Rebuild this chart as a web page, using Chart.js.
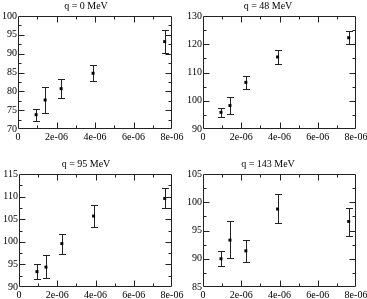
<!DOCTYPE html>
<html>
<head>
<meta charset="utf-8">
<script src="https://cdn.jsdelivr.net/npm/chart.js@4/dist/chart.umd.min.js"></script>
<style>
  body { margin: 0; background: #fff; }
  #wrap { position: relative; width: 367px; height: 299px; overflow: hidden; }
  canvas { position: absolute; }
</style>
</head>
<body>
<div id="wrap">
  <canvas id="c0"></canvas>
  <canvas id="c48"></canvas>
  <canvas id="c95"></canvas>
  <canvas id="c143"></canvas>
</div>
<script>
// x positions shared by every panel
const xVals = [0.94e-6, 1.41e-6, 2.24e-6, 3.90e-6, 7.62e-6];
const xTickMax = 8e-6;
const xTickStep = 2e-6;

// q = 0 MeV
const q0Y  = [73.8, 77.7, 80.7, 84.8, 93.2];
const q0Lo = [72.2, 74.3, 78.1, 82.8, 90.2];
const q0Hi = [75.3, 81.1, 83.3, 87.0, 96.3];
// q = 48 MeV
const q48Y  = [95.9, 98.3, 106.5, 115.5, 122.3];
const q48Lo = [94.3, 95.3, 104.2, 113.0, 120.1];
const q48Hi = [97.5, 101.3, 108.8, 118.0, 124.6];
// q = 95 MeV
const q95Y  = [93.4, 94.4, 99.6, 105.7, 109.6];
const q95Lo = [91.8, 92.0, 97.4, 103.3, 107.4];
const q95Hi = [95.0, 97.0, 101.8, 108.1, 111.8];
// q = 143 MeV
const q143Y  = [90.0, 93.3, 91.4, 98.8, 96.6];
const q143Lo = [88.7, 90.1, 89.4, 96.3, 94.1];
const q143Hi = [91.4, 96.6, 93.4, 101.4, 99.0];

const FONT = "'Liberation Serif', 'Times New Roman', serif";

// error bars, drawn behind the points
const errorBars = {
  id: 'errorBars',
  beforeDatasetsDraw(chart) {
    const ctx = chart.ctx;
    const {x, y} = chart.scales;
    const ds = chart.data.datasets[0];
    ctx.save();
    ctx.strokeStyle = '#222';
    ctx.lineWidth = 1;
    ds.data.forEach((p, i) => {
      const px = Math.round(x.getPixelForValue(p.x)) + 0.5;
      const yl = Math.round(y.getPixelForValue(ds.errLo[i])) + 0.5;
      const yh = Math.round(y.getPixelForValue(ds.errHi[i])) + 0.5;
      ctx.beginPath();
      ctx.moveTo(px, yl); ctx.lineTo(px, yh);
      ctx.moveTo(px - 3.5, yl); ctx.lineTo(px + 3.5, yl);
      ctx.moveTo(px - 3.5, yh); ctx.lineTo(px + 3.5, yh);
      ctx.stroke();
    });
    ctx.restore();
  }
};

// box frame with inward major/minor ticks on all four sides
const frameTicks = {
  id: 'frameTicks',
  afterDraw(chart) {
    const ctx = chart.ctx;
    const a = chart.chartArea;
    const {x, y} = chart.scales;
    const L = Math.round(a.left) + 0.5, R = Math.round(a.right) - 0.5;
    const T = Math.round(a.top) + 0.5, B = Math.round(a.bottom) - 0.5;
    const maj = 6, mnr = 3;
    ctx.save();
    ctx.strokeStyle = '#222';
    ctx.lineWidth = 1;
    ctx.beginPath();
    ctx.rect(L, T, R - L, B - T);
    const withMinor = (sc) => {
      const v = sc.ticks.map(t => t.value);
      const out = [];
      v.forEach((t, i) => {
        out.push([t, maj]);
        if (i < v.length - 1) out.push([(t + v[i + 1]) / 2, mnr]);
      });
      return out;
    };
    withMinor(x).forEach(([v, len]) => {
      const px = Math.round(x.getPixelForValue(v)) + 0.5;
      if (px <= L + 1 || px >= R - 1) return;
      ctx.moveTo(px, B); ctx.lineTo(px, B - len);
      ctx.moveTo(px, T); ctx.lineTo(px, T + len);
    });
    withMinor(y).forEach(([v, len]) => {
      const py = Math.round(y.getPixelForValue(v)) + 0.5;
      if (py <= T + 1 || py >= B - 1) return;
      ctx.moveTo(L, py); ctx.lineTo(L + len, py);
      ctx.moveTo(R, py); ctx.lineTo(R - len, py);
    });
    ctx.stroke();
    ctx.restore();
  }
};

function expLabel(v) {
  if (Math.abs(v) < 1e-12) return '0';
  return Number(v).toExponential(0).replace(/e([+-])(\d)$/, 'e$10$2');
}

function makePanel(id, box, title, ys, lo, hi, yMin, yMax, yStep) {
  const cv = document.getElementById(id);
  cv.width = box.w; cv.height = box.h;
  cv.style.left = box.left + 'px';
  cv.style.top = box.top + 'px';
  new Chart(cv, {
    type: 'scatter',
    data: {
      datasets: [{
        data: xVals.map((x, i) => ({x: x, y: ys[i]})),
        errLo: lo,
        errHi: hi,
        pointStyle: 'rect',
        pointRadius: 2.1,
        backgroundColor: '#000',
        borderWidth: 0
      }]
    },
    options: {
      responsive: false,
      animation: false,
      layout: { padding: { left: 0, right: box.padR, top: 0, bottom: 0 } },
      plugins: {
        legend: { display: false },
        tooltip: { enabled: false },
        title: {
          display: true,
          text: title,
          color: '#000',
          font: { family: FONT, size: 10, weight: 'normal', lineHeight: 1.2 },
          padding: { top: 0, bottom: 4 }
        }
      },
      scales: {
        x: {
          type: 'linear',
          min: 0, max: xTickMax,
          grid: { display: false, drawTicks: false },
          border: { display: false },
          ticks: {
            stepSize: xTickStep,
            autoSkip: false,
            maxRotation: 0,
            padding: 2,
            color: '#000',
            font: { family: FONT, size: 10 },
            callback: v => expLabel(v)
          },
          afterFit: s => { s.height = box.xH; s.paddingLeft = 0; s.paddingRight = 0; }
        },
        y: {
          min: yMin, max: yMax,
          grid: { display: false, drawTicks: false },
          border: { display: false },
          ticks: {
            stepSize: yStep,
            padding: 1,
            color: '#000',
            font: { family: FONT, size: 10 }
          },
          afterFit: s => { s.width = box.yW; s.paddingTop = 0; s.paddingBottom = 0; }
        }
      }
    },
    plugins: [errorBars, frameTicks]
  });
}

makePanel('c0',   {left: 0,   top: 0,   w: 186, h: 150, yW: 18, padR: 14, xH: 21}, 'q = 0 MeV',   q0Y,   q0Lo,   q0Hi,   70, 100, 5);
makePanel('c48',  {left: 180, top: 0,   w: 187, h: 150, yW: 23, padR: 11, xH: 21}, 'q = 48 MeV',  q48Y,  q48Lo,  q48Hi,  90, 130, 10);
makePanel('c95',  {left: 0,   top: 158, w: 186, h: 141, yW: 19, padR: 14, xH: 12}, 'q = 95 MeV',  q95Y,  q95Lo,  q95Hi,  90, 115, 5);
makePanel('c143', {left: 180, top: 158, w: 187, h: 141, yW: 23, padR: 11, xH: 12}, 'q = 143 MeV', q143Y, q143Lo, q143Hi, 85, 105, 5);
</script>
</body>
</html>
